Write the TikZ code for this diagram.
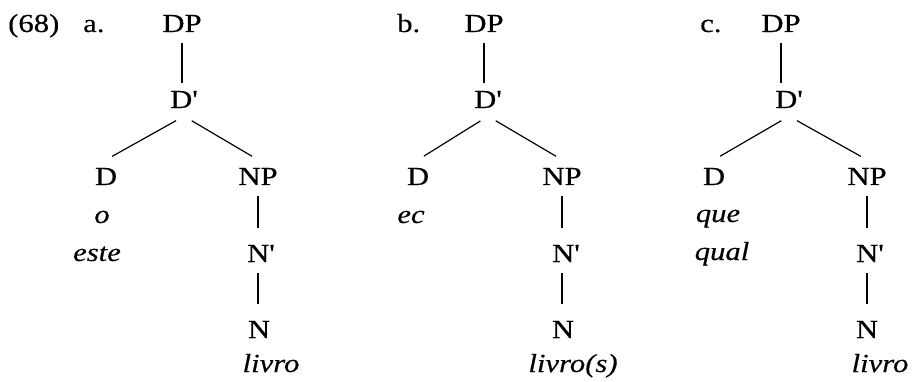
\documentclass[tikz,border=0pt]{standalone}
\usepackage{fontspec}
\newfontfamily\treefont[FakeStretch=1.18,FakeBold=0.35]{Liberation Serif}
\usetikzlibrary{positioning}
\newcommand\prm{\char"0027\relax}

\begin{document}
\begin{tikzpicture}[x=1pt,y=1pt,
		cat/.style={font=\treefont\fontsize{26}{30}\selectfont, anchor=base, inner xsep=0pt, inner ysep=8pt, text height=17pt, text depth=0pt},
		word/.style={font=\treefont\itshape\fontsize{26}{30}\selectfont, anchor=base, inner sep=0pt},
		lab/.style={font=\treefont\fontsize{26}{30}\selectfont, anchor=base west, inner sep=0pt},
		branch/.style={line width=1.2pt, shorten <=9pt, shorten >=7pt},
		stem/.style={line width=1.2pt, shorten <=3pt},
		lowstem/.style={stem, shorten >=9pt}]
		
		\useasboundingbox (0,0) rectangle (913,-382);
		
		% example number and letters
		\node[lab] (num) at (8,-32) {(68)};
		\node[lab] (laba) at (83,-32) {a.};
		\node[lab] (labb) at (397,-32) {b.};
		\node[lab] (labc) at (700,-32) {c.};
		
		% tree a
		\node[cat] (dpa) at (182,-32) {DP};
		\node[cat] (dbara) at (184,-108) {D\prm};
		\node[cat] (da) at (106,-185) {D};
		\node[cat] (npa) at (258,-185) {NP};
		\node[cat] (nbara) at (261,-262) {N\prm};
		\node[cat] (na) at (259,-338) {N};
		\node[word] (oa) at (102,-223) {o};
		\node[word] (estea) at (97,-261) {este};
		\node[word] (livroa) at (271,-372) {livro};
		\draw[stem] (dpa.south) -- (dpa.south |- dbara.north);
		\draw[branch] (dbara.south) -- (da.north);
		\draw[branch] (dbara.south) -- (npa.north);
		\draw[lowstem] (npa.south) -- (npa.south |- nbara.north);
		\draw[lowstem] (npa.south |- nbara.south) -- (npa.south |- na.north);
		
		% tree b
		\node[cat] (dpb) at (484,-32) {DP};
		\node[cat] (dbarb) at (488,-108) {D\prm};
		\node[cat] (db) at (418,-185) {D};
		\node[cat] (npb) at (562,-185) {NP};
		\node[cat] (nbarb) at (566,-262) {N\prm};
		\node[cat] (nb) at (563,-338) {N};
		\node[word] (ecb) at (411,-223) {ec};
		\node[word] (livrob) at (573,-372) {livro(s)};
		\draw[stem] (dpb.south) -- (dpb.south |- dbarb.north);
		\draw[branch] (dbarb.south) -- (db.north);
		\draw[branch] (dbarb.south) -- (npb.north);
		\draw[lowstem] (npb.south) -- (npb.south |- nbarb.north);
		\draw[lowstem] (npb.south |- nbarb.south) -- (npb.south |- nb.north);
		
		% tree c
		\node[cat] (dpc) at (781,-32) {DP};
		\node[cat] (dbarc) at (789,-108) {D\prm};
		\node[cat] (dc) at (714,-185) {D};
		\node[cat] (npc) at (867,-185) {NP};
		\node[cat] (nbarc) at (870,-262) {N\prm};
		\node[cat] (nc) at (867,-338) {N};
		\node[word] (quec) at (718,-222) {que};
		\node[word] (qualc) at (722,-260) {qual};
		\node[word] (livroc) at (880,-372) {livro};
		\draw[stem] (dpc.south) -- (dpc.south |- dbarc.north);
		\draw[branch] (dbarc.south) -- (dc.north);
		\draw[branch] (dbarc.south) -- (npc.north);
		\draw[lowstem] (npc.south) -- (npc.south |- nbarc.north);
		\draw[lowstem] (npc.south |- nbarc.south) -- (npc.south |- nc.north);
	\end{tikzpicture}
\end{document}
